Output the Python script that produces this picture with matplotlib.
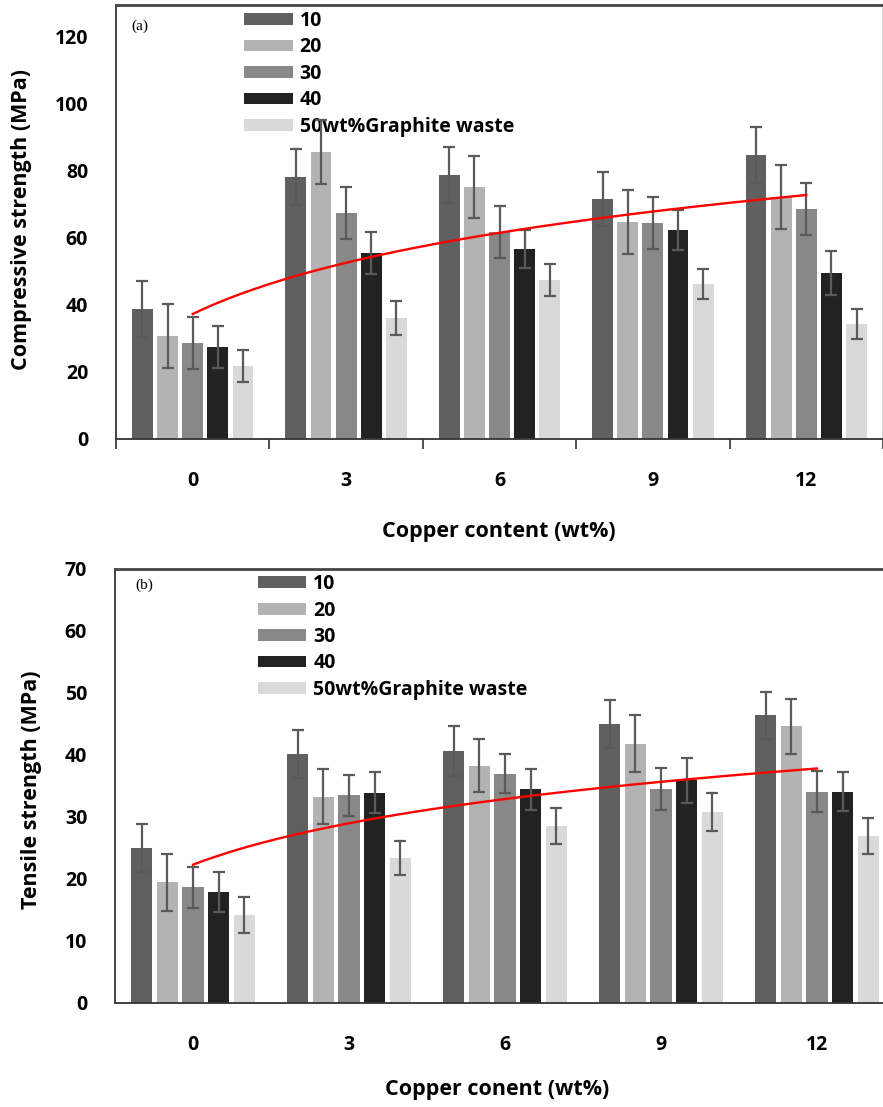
import numpy as np
import matplotlib
matplotlib.use("Agg")
import matplotlib.pyplot as plt

plt.rcParams['font.family'] = ['Open Sans', 'DejaVu Sans']

categories = ["0", "3", "6", "9", "12"]
series_labels = ["10", "20", "30", "40", "50wt%Graphite waste"]
colors = ["#606060", "#b3b3b3", "#888888", "#222222", "#d9d9d9"]

# Compressive strength (MPa), rows = series, cols = copper content
comp_vals = [
    [38.8, 78.2, 78.8, 71.6, 84.8],
    [30.7, 85.7, 75.2, 64.8, 72.2],
    [28.7, 67.5, 61.8, 64.5, 68.7],
    [27.5, 55.5, 56.7, 62.4, 49.6],
    [21.8, 36.1, 47.5, 46.3, 34.3],
]
comp_err = [
    [8.4, 8.4, 8.4, 8.1, 8.4],
    [9.6, 9.6, 9.3, 9.6, 9.6],
    [7.7, 7.8, 7.8, 7.8, 7.8],
    [6.2, 6.3, 5.7, 6.0, 6.6],
    [4.8, 5.1, 4.8, 4.5, 4.5],
]
comp_trend = [37.3, 52.6, 61.5, 67.9, 72.8]

# Tensile strength (MPa)
tens_vals = [
    [25.0, 40.2, 40.6, 45.0, 46.4],
    [19.5, 33.3, 38.3, 41.8, 44.6],
    [18.7, 33.5, 37.0, 34.5, 34.1],
    [17.9, 33.9, 34.5, 35.9, 34.1],
    [14.2, 23.4, 28.6, 30.8, 27.0],
]
tens_err = [
    [3.9, 3.9, 4.0, 3.8, 3.8],
    [4.6, 4.5, 4.3, 4.6, 4.5],
    [3.3, 3.3, 3.2, 3.4, 3.3],
    [3.3, 3.3, 3.3, 3.6, 3.2],
    [2.9, 2.8, 2.9, 3.0, 2.9],
]
tens_trend = [22.3, 29.0, 32.9, 35.7, 37.8]

W, H = 883, 1107
fig = plt.figure(figsize=(W / 100, H / 100), dpi=100)

FS = 14
TFS = 15.5


def panel(rect, vals, errs, trend, ylim, yticks, tag, tag_xy, leg_anchor,
          draw_ticks, spine_right):
    ax = fig.add_axes(rect)
    x = np.arange(len(categories))
    step = 0.164
    width = 0.136
    for i, (v, e) in enumerate(zip(vals, errs)):
        pos = x + (i - 2) * step
        ax.bar(pos, v, width=width, color=colors[i], label=series_labels[i], zorder=2)
        ax.errorbar(pos, v, yerr=e, fmt='none', ecolor='#5a5a5a', elinewidth=1.6,
                    capsize=4.5, capthick=1.6, zorder=3)
    # logarithmic trendline fitted to trend points
    xi = x + 1
    b, a = np.polyfit(np.log(xi), trend, 1)
    xs = np.linspace(1, len(categories), 200)
    ax.plot(xs - 1, a + b * np.log(xs), color='red', lw=1.7, zorder=4)

    ax.set_xlim(-0.5, len(categories) - 0.5)
    ax.set_ylim(*ylim)
    ax.set_yticks(yticks)
    ax.set_yticklabels([str(t) for t in yticks], fontsize=FS, fontweight='bold')
    ax.tick_params(axis='y', length=0, pad=20)
    ax.set_xticks(x)
    ax.set_xticklabels(categories, fontsize=FS, fontweight='bold')
    ax.tick_params(axis='x', which='major', length=0, pad=23)
    if draw_ticks:
        ax.set_xticks(np.arange(-0.5, len(categories), 1.0), minor=True)
        ax.tick_params(axis='x', which='minor', length=7, width=1.2, color='#333333', direction='out')
    ax.spines['left'].set_color('#222222')
    ax.spines['left'].set_linewidth(1.2)
    ax.spines['bottom'].set_color('#333333')
    ax.spines['bottom'].set_linewidth(1.3)
    ax.spines['top'].set_color('#444444')
    ax.spines['top'].set_linewidth(2.0)
    if spine_right:
        ax.spines['right'].set_color('#d0d0d0')
        ax.spines['right'].set_linewidth(1.5)
    else:
        ax.spines['right'].set_visible(False)

    ax.text(tag_xy[0], tag_xy[1], tag, transform=ax.transAxes, fontsize=11,
            family='Liberation Serif', va='center', ha='left')

    leg = ax.legend(loc='upper left', bbox_to_anchor=leg_anchor, frameon=False,
                    prop={'size': FS, 'weight': 'bold'}, handlelength=2.5,
                    handleheight=0.55, labelspacing=0.33, handletextpad=0.35,
                    borderpad=0, borderaxespad=0)
    leg.set_zorder(1)
    return ax


ax1 = panel([116 / W, 1 - 439 / H, 767 / W, 434 / H], comp_vals, comp_err, comp_trend,
            (0, 129.5), [0, 20, 40, 60, 80, 100, 120], "(a)", (0.02, 0.95),
            (0.167, 0.986), True, True)
ax2 = panel([115 / W, 1 - 1003 / H, 780 / W, 434 / H], tens_vals, tens_err, tens_trend,
            (0, 70), [0, 10, 20, 30, 40, 50, 60, 70], "(b)", (0.026, 0.962),
            (0.183, 0.988), False, False)

fig.text(22 / W, 1 - 220 / H, "Compressive strength (MPa)", rotation=90, fontsize=TFS,
         fontweight='bold', ha='center', va='center')
fig.text(499 / W, 1 - 531 / H, "Copper content (wt%)", fontsize=TFS, fontweight='bold',
         ha='center', va='center')
fig.text(32 / W, 1 - 790 / H, "Tensile strength (MPa)", rotation=90, fontsize=TFS,
         fontweight='bold', ha='center', va='center')
fig.text(497 / W, 1 - 1089 / H, "Copper conent (wt%)", fontsize=TFS, fontweight='bold',
         ha='center', va='center')

fig.savefig("out.png", dpi=100)
